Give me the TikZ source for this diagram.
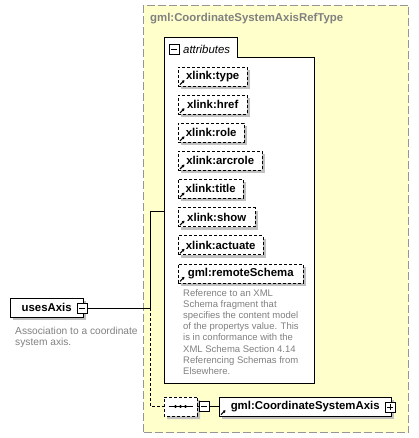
\documentclass[tikz,border=0pt]{standalone}
\usepackage{fontspec}
\setmainfont{Liberation Sans}
\usepackage{tikz}
\usetikzlibrary{positioning,arrows.meta,shapes.misc,shadows}
\definecolor{typefill}{RGB}{255,255,204}
\definecolor{typeborder}{RGB}{150,150,150}
\definecolor{doctext}{RGB}{128,128,128}
\definecolor{shadowgray}{RGB}{192,192,192}

\begin{document}
\begin{tikzpicture}[x=1pt,y=-1pt,
    shadowed/.style={general shadow={fill=shadowgray,shadow xshift=3pt,shadow yshift=-3pt}},
    elem/.style={draw,fill=white,shadowed,minimum height=19pt,inner xsep=4pt,inner ysep=0pt,
        font=\fontsize{11.4}{13}\selectfont\bfseries},
    attr/.style={elem,dash pattern=on 3pt off 2pt},
    minusbox/.style={draw,solid,fill=white,minimum size=10pt,inner sep=0pt,
        path picture={\draw ([xshift=2pt]path picture bounding box.west) -- ([xshift=-2pt]path picture bounding box.east);}},
    plusbox/.style={draw,solid,fill=white,minimum size=10pt,inner sep=0pt,
        path picture={\draw ([xshift=2pt]path picture bounding box.west) -- ([xshift=-2pt]path picture bounding box.east);
                      \draw ([yshift=2pt]path picture bounding box.south) -- ([yshift=-2pt]path picture bounding box.north);}},
    doc/.style={font=\fontsize{9.5}{11.1}\selectfont,text=doctext,align=left,inner sep=0pt,anchor=north west},
    refarrow/.style={-{Triangle[length=2.5pt,width=3pt]},line width=1.1pt}]

    \useasboundingbox (0,0) rectangle (419,438);

    % TYPE (fond jaune)
    \node[draw=typeborder,fill=typefill,dash pattern=on 8pt off 3pt,line width=1pt,
        minimum width=265pt,minimum height=427pt,anchor=north west,inner sep=0pt] (typeBox) at (143,5) {};
    \node[anchor=west,inner sep=0pt,text=doctext,font=\fontsize{11.4}{13}\selectfont\bfseries] (typeName) at (150,19) {gml:CoordinateSystemAxisRefType};

    % ATTRIBUTS
    \node[fill=white,minimum width=150pt,minimum height=326pt,anchor=north west,inner sep=0pt] (attrs) at (164,57) {};
    \node[fill=white,minimum width=73pt,minimum height=19pt,anchor=south west,inner sep=0pt] (attrTab) at (164,57) {};
    \draw (attrs.south west) -- (attrTab.north west) -- (attrTab.north east) -- (attrTab.south east)
        -- (attrs.north east) -- (attrs.south east) -- cycle;
    \node[minusbox] (attrMinus) at (174,49.5) {};
    \node[anchor=west,inner sep=0pt,font=\fontsize{11.4}{13}\selectfont\itshape] (attrLabel) at (183,49) {attributes};

    \foreach \lbl/\w [count=\i from 0] in {xlink:type/69,xlink:href/69,xlink:role/66,xlink:arcrole/84,
        xlink:title/65,xlink:show/77,xlink:actuate/85,gml:remoteSchema/125} {
        \node[attr,minimum width=\w pt,anchor=west] (a\i) at (178,{76.5+28.1*\i}) {\lbl};
        \draw[refarrow] ([shift={(2pt,1.5pt)}]a\i.south west) -- ++(4.5pt,4.5pt);
    }

    \node[doc] (schemaDoc) at (183,289.5) {Reference to an XML\\Schema fragment that\\specifies the content model\\of the propertys value. This\\is in conformance with the\\XML Schema Section 4.14\\Referencing Schemas from\\Elsewhere.};

    % ELEMENT usesAxis
    \node[elem,minimum width=73pt,anchor=north west] (usesAxis) at (10,298) {usesAxis};
    \node[minusbox] (usesMinus) at (82,308) {};
    \node[doc,font=\fontsize{10.2}{11.1}\selectfont] (usesDoc) at (15,326.5) {Association to a coordinate\\system axis.};

    % SEQUENCE
    \node[chamfered rectangle,chamfered rectangle sep=5pt,draw,fill=white,shadowed,dash pattern=on 3pt off 2pt,
        minimum width=33pt,minimum height=19pt,inner sep=0pt] (seq) at (180.5,406.5) {};
    \draw[solid] ([xshift=-12pt]seq.center) -- ([xshift=12pt]seq.center);
    \foreach \d in {-5,0,5}
        \fill ([xshift=\d pt]seq.center) circle (1.7pt);
    \node[minusbox] (seqMinus) at (204,406.5) {};

    \node[elem,minimum width=172pt,anchor=west] (axisElem) at (219,406.5) {gml:CoordinateSystemAxis};
    \draw[refarrow] ([shift={(2pt,1.5pt)}]axisElem.south west) -- ++(4.5pt,4.5pt);
    \node[plusbox] (axisPlus) at (390,407) {};

    % CONNEXIONS
    \coordinate (fork) at (150,308);
    \coordinate (attrIn) at (164,211);
    \draw (usesMinus.east) -- (fork) |- (attrIn);
    \draw[dash pattern=on 3pt off 2pt] (fork) |- (seq.west);
    \draw (seq.east) -- (seqMinus.west);
    \draw (seqMinus.east) -- (axisElem.west);

\end{tikzpicture}
\end{document}
